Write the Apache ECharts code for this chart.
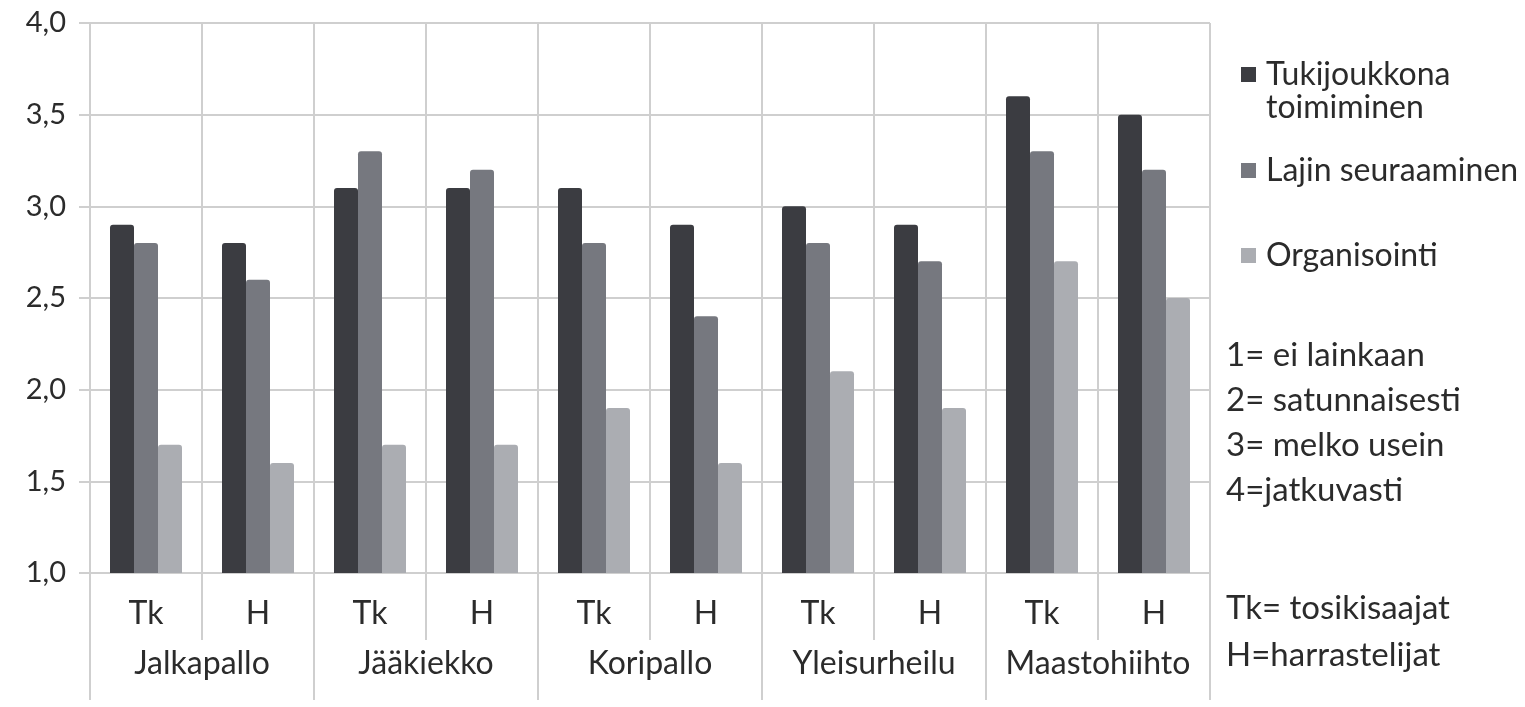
<!DOCTYPE html>
<html>
<head>
<meta charset="utf-8">
<script src="https://cdn.jsdelivr.net/npm/echarts@6/dist/echarts.min.js"></script>
<style>
  html, body { margin: 0; padding: 0; background: #fff; }
  #chart { width: 1525px; height: 707px; }
</style>
</head>
<body>
<div id="chart"></div>
<script>
// data
const subCategories = ['Tk', 'H', 'Tk', 'H', 'Tk', 'H', 'Tk', 'H', 'Tk', 'H']
const groups = ['Jalkapallo', 'Jääkiekko', 'Koripallo', 'Yleisurheilu', 'Maastohiihto']
const seriesNames = ['Tukijoukkona toimiminen', 'Lajin seuraaminen', 'Organisointi']
const tukijoukkona = [2.9, 2.8, 3.1, 3.1, 3.1, 2.9, 3.0, 2.9, 3.6, 3.5]
const seuraaminen = [2.8, 2.6, 3.3, 3.2, 2.8, 2.4, 2.8, 2.7, 3.3, 3.2]
const organisointi = [1.7, 1.6, 1.7, 1.7, 1.9, 1.6, 2.1, 1.9, 2.7, 2.5]
const yTicks = { min: 1, max: 4, interval: 0.5 }
const scaleNotes = ['1= ei lainkaan', '2= satunnaisesti', '3= melko usein', '4=jatkuvasti']
const abbrNotes = ['Tk= tosikisaajat', 'H=harrastelijat']

const colors = ['#3b3c41', '#76787f', '#abadb2']
const font = 'Lato'
const textColor = '#2b2b2b'
const lineColor = '#cfcfcf'

const chart = echarts.init(document.getElementById('chart'))

function bar(name, data, i) {
  return {
    name: name,
    type: 'bar',
    xAxisIndex: 0,
    data: data,
    barWidth: 24,
    barGap: '0%',
    itemStyle: { color: colors[i], borderRadius: [3, 3, 0, 0] }
  }
}

function legendItem(name, top, icon) {
  return {
    data: [{ name: name, icon: icon || 'rect' }],
    left: 1241,
    top: top,
    padding: 0,
    itemWidth: 15,
    itemHeight: icon ? 48 : 15,
    selectedMode: false,
    formatter: n => n === seriesNames[0] ? 'Tukijoukkona\ntoimiminen' : n,
    textStyle: { fontFamily: font, fontSize: 32, color: textColor, lineHeight: 33, padding: [0, 0, 0, 5] }
  }
}

const option = {
  animation: false,
  color: colors,
  grid: { left: 90, right: 315, top: 23, bottom: 134 },
  legend: [
    // square in the top part of a taller box so it sits by the first text line
    legendItem(seriesNames[0], 58, 'path://M0,0h15v15h-15z M0,47.9h0.01v0.01h-0.01z'),
    legendItem(seriesNames[1], 154),
    legendItem(seriesNames[2], 239)
  ],
  xAxis: [
    {
      type: 'category',
      data: subCategories,
      position: 'bottom',
      axisLine: { show: true, lineStyle: { color: lineColor, width: 2 } },
      axisTick: { show: true, interval: 0, length: 67, lineStyle: { color: lineColor, width: 2 } },
      splitLine: { show: true, interval: 0, lineStyle: { color: lineColor, width: 2 } },
      axisLabel: { interval: 0, fontFamily: font, fontSize: 32, color: textColor, margin: 25 }
    },
    {
      type: 'category',
      data: groups,
      position: 'bottom',
      offset: 0,
      axisLine: { show: false },
      axisTick: { show: true, interval: 0, length: 127, lineStyle: { color: lineColor, width: 2 } },
      axisLabel: { interval: 0, fontFamily: font, fontSize: 32, color: textColor, margin: 75 }
    }
  ],
  yAxis: {
    type: 'value',
    position: 'left',
    min: yTicks.min,
    max: yTicks.max,
    interval: yTicks.interval,
    axisLine: { show: true, lineStyle: { color: lineColor, width: 2 } },
    axisTick: { show: true, inside: false, length: 11, lineStyle: { color: lineColor, width: 2 } },
    splitLine: { show: true, lineStyle: { color: lineColor, width: 2 } },
    axisLabel: {
      fontFamily: font, fontSize: 29, color: textColor, margin: 24,
      formatter: v => v.toFixed(1).replace('.', ',')
    }
  },
  graphic: [
    {
      type: 'text', left: 1226, top: 333,
      style: { text: scaleNotes.join('\n'), fontFamily: font, fontSize: 33, fill: textColor, lineHeight: 45 }
    },
    {
      type: 'text', left: 1226, top: 585,
      style: { text: abbrNotes.join('\n'), fontFamily: font, fontSize: 33, fill: textColor, lineHeight: 47 }
    }
  ],
  series: [
    bar(seriesNames[0], tukijoukkona, 0),
    bar(seriesNames[1], seuraaminen, 1),
    bar(seriesNames[2], organisointi, 2)
  ]
}

chart.setOption(option)
</script>
</body>
</html>
